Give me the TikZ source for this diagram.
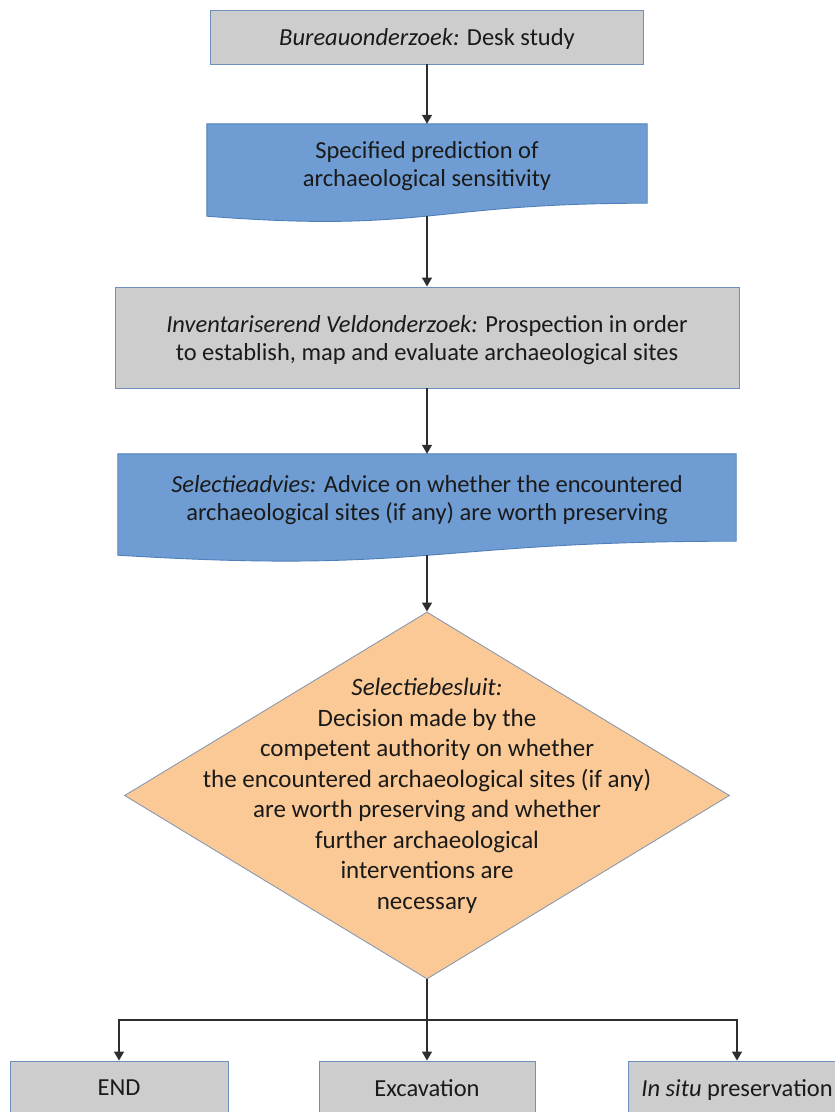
\documentclass[tikz,border=0pt]{standalone}
\usepackage{fontspec}
\setmainfont{Carlito}
\usetikzlibrary{shapes.geometric,arrows.meta,calc}
\definecolor{boxgray}{HTML}{CDCDCD}
\definecolor{grayedge}{HTML}{6F8FBF}
\definecolor{docblue}{HTML}{6F9DD3}
\definecolor{docedge}{HTML}{4F7FBA}
\definecolor{diafill}{HTML}{FBC996}
\definecolor{diaedge}{HTML}{8899AF}
\definecolor{arrowgray}{HTML}{2E2E2E}
\definecolor{txt}{HTML}{1A1A1A}
\tikzset{
  graybox/.style={rectangle, fill=boxgray, draw=grayedge, line width=0.9bp, inner sep=0pt, text depth=0pt, align=center, text=txt, font=\fontsize{24.5bp}{28bp}\selectfont},
  docnode/.style={rectangle, inner sep=0pt, align=center, text=txt, font=\fontsize{24.5bp}{28bp}\selectfont},
  docpaint/.style={fill=docblue, draw=docedge, line width=0.9bp},
  decision/.style={diamond, fill=diafill, draw=diaedge, line width=0.9bp, inner sep=0pt},
  dectext/.style={align=center, text=txt, font=\fontsize{25bp}{30.5bp}\selectfont},
  arr/.style={draw=arrowgray, line width=1.2bp, -{Triangle[width=10bp,length=9bp]}},
  link/.style={draw=arrowgray, line width=1.2bp}
}
\newcommand{\docpath}[3]{%
  \path[docpaint] (#1.north west) -- (#1.north east) -- (#1.south east)
    .. controls (#1.south) and ($(#1.south)+(0,#2)$) .. ($(#1.south west)+(0,#3)$) -- cycle;}
\begin{document}
\begin{tikzpicture}[x=1bp,y=-1bp]
\useasboundingbox (0,0) rectangle (835,1112);
\clip (0,0) rectangle (835,1112);

% nodes
\node[graybox, minimum width=433bp, minimum height=54bp] (desk) at (427,37)
  {\textit{Bureauonderzoek:} Desk study};

\node[docnode, minimum width=440bp, minimum height=79bp] (pred) at (427,163.5) {};
\docpath{pred}{30}{13}
\node[docnode] (predtxt) at ($(pred.center)+(0,3)$) {Specified prediction of\\archaeological sensitivity};
\coordinate (predb) at ($(pred.south)+(0,13)$);

\node[graybox, minimum width=624bp, minimum height=101bp] (field) at (427,337.5)
  {\textit{Inventariserend Veldonderzoek:} Prospection in order\\to establish, map and evaluate archaeological sites};

\node[docnode, minimum width=618bp, minimum height=87bp] (advice) at (427,497.5) {};
\docpath{advice}{33}{14}
\node[docnode] (advicetxt) at ($(advice.center)+(0,3)$) {\textit{Selectieadvies:} Advice on whether the encountered\\archaeological sites (if any) are worth preserving};
\coordinate (adviceb) at ($(advice.south)+(0,14)$);

\node[decision, minimum width=605bp, minimum height=367bp] (dec) at (427,795.5) {};
\node[dectext] (dectxt) at (427,796) {\textit{Selectiebesluit:}\\Decision made by the\\competent authority on whether\\the encountered archaeological sites (if any)\\are worth preserving and whether\\further archaeological\\interventions are\\necessary};

\node[graybox, minimum width=218bp, minimum height=54bp] (end) at (119,1088) {END};
\node[graybox, minimum width=216bp, minimum height=54bp] (exc) at (427,1088) {Excavation};
\node[graybox, minimum width=218bp, minimum height=54bp] (situ) at (737,1088) {\textit{In situ} preservation};

\coordinate (split) at (427,1020);

% connectors
\draw[arr] (desk.south) -- (pred.north);
\draw[arr] (predb) -- (field.north);
\draw[arr] (field.south) -- (advice.north);
\draw[arr] (adviceb) -- (dec.north);
\draw[link] (dec.south) -- (split);
\draw[arr] (split) -| (end.north);
\draw[arr] (split) -- (exc.north);
\draw[arr] (split) -| (situ.north);
\end{tikzpicture}
\end{document}
